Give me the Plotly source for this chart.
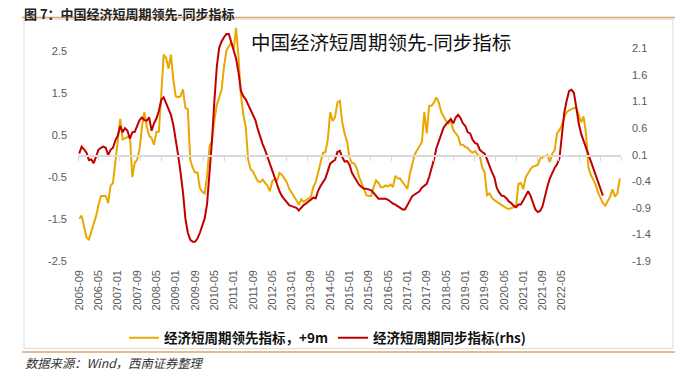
import pandas as pd
import plotly.graph_objects as go

# ---------------- data ----------------
months = pd.date_range("2005-09-01", periods=225, freq="MS").strftime("%Y-%m").tolist()

leading_9m = [
    -1.49, -1.42, -1.67, -1.94, -1.99, -1.80, -1.59, -1.43, -1.16, -0.95,
    -0.95, -0.95, -1.12, -0.71, -0.64, -0.08, 0.35, 0.89, 0.40, 0.43,
    0.45, 0.48, -0.50, -0.16, -0.09, 0.16, 0.70, 1.05, 0.70, 0.48,
    0.43, 0.27, 0.58, 0.58, 1.47, 2.42, 2.34, 2.09, 2.42, 1.82,
    1.43, 1.40, 1.43, 1.59, 1.15, 1.12, -0.08, -0.27, -0.39, -0.39,
    -0.76, -0.85, -0.89, -0.47, 0.23, 0.37, 0.85, 1.22, 1.40, 1.59,
    2.13, 2.52, 2.62, 2.71, 2.54, 3.06, 2.36, 1.47, 0.99, 0.70,
    -0.08, -0.31, -0.37, -0.47, -0.60, -0.62, -0.56, -0.64, -0.70, -0.84,
    -0.60, -0.54, -0.58, -0.40, -0.45, -0.53, -0.62, -0.78, -0.87, -0.93,
    -1.05, -1.16, -1.03, -1.09, -1.05, -1.00, -0.97, -0.74, -0.62, -0.39,
    -0.16, 0.08, 0.09, 0.39, 1.05, 0.84, 0.93, 1.28, 1.32, 0.81,
    0.53, 0.35, -0.04, -0.16, -0.18, -0.29, -0.50, -0.66, -0.78, -0.93,
    -0.95, -0.95, -0.74, -0.58, -0.64, -0.74, -0.74, -0.70, -0.72, -0.68,
    -0.74, -0.47, -0.53, -0.54, -0.62, -0.71, -0.78, -0.43, -0.16, 0.04,
    0.14, 0.23, 0.33, 1.05, 0.54, 1.20, 1.20, 1.28, 1.40, 1.28,
    1.05, 0.95, 0.84, 0.78, 0.84, 0.62, 0.54, 0.47, 0.27, 0.27,
    0.22, 0.19, 0.12, 0.08, 0.12, 0.04, 0.00, -0.27, -0.39, -0.93,
    -0.89, -0.99, -1.05, -1.09, -1.12, -1.16, -1.20, -1.24, -1.26, -1.24,
    -1.22, -1.20, -0.66, -0.64, -0.79, -0.50, -0.41, -0.31, -0.25, -0.23,
    -0.21, -0.06, -0.03, 0.00, 0.03, -0.14, 0.06, 0.14, 0.54, 0.62,
    0.74, 0.93, 1.05, 1.09, 1.12, 1.15, 1.15, 0.97, 0.81, 0.95,
    0.54, -0.27, -0.45, -0.56, -0.68, -0.87, -1.01, -1.12, -1.18, -1.09,
    -0.97, -0.79, -0.97, -0.89, -0.53,
]

coincident = [
    0.12, 0.25, 0.20, 0.14, 0.00, 0.01, -0.06, 0.05, 0.19, 0.23,
    0.25, 0.23, 0.09, 0.19, 0.23, 0.37, 0.46, 0.64, 0.52, 0.60,
    0.55, 0.40, 0.52, 0.53, 0.64, 0.75, 0.80, 0.75, 0.74, 0.80,
    0.55, 0.69, 0.78, 0.92, 1.13, 1.18, 1.07, 0.97, 0.85, 0.66,
    0.40, 0.09, -0.24, -0.61, -1.10, -1.37, -1.50, -1.54, -1.54, -1.48,
    -1.37, -1.25, -1.10, -0.82, -0.30, 0.35, 1.10, 1.75, 2.11, 2.23,
    2.31, 2.37, 2.37, 2.22, 2.07, 1.91, 1.65, 1.30, 1.20, 1.14,
    1.04, 0.94, 0.83, 0.75, 0.58, 0.43, 0.30, 0.19, 0.06, -0.07,
    -0.22, -0.37, -0.49, -0.59, -0.68, -0.74, -0.79, -0.85, -0.87, -0.88,
    -0.90, -0.95, -0.89, -0.85, -0.82, -0.78, -0.75, -0.71, -0.72, -0.58,
    -0.49, -0.41, -0.35, -0.21, -0.07, -0.03, 0.00, 0.15, 0.17, 0.05,
    -0.03, -0.02, -0.09, -0.24, -0.32, -0.40, -0.47, -0.51, -0.54, -0.54,
    -0.55, -0.57, -0.62, -0.67, -0.73, -0.73, -0.73, -0.73, -0.75, -0.79,
    -0.82, -0.84, -0.87, -0.89, -0.93, -0.93, -0.85, -0.76, -0.68, -0.65,
    -0.62, -0.59, -0.52, -0.49, -0.45, -0.32, -0.17, 0.01, 0.22, 0.35,
    0.46, 0.61, 0.67, 0.72, 0.77, 0.69, 0.80, 0.85, 0.79, 0.69,
    0.64, 0.52, 0.50, 0.38, 0.32, 0.30, 0.19, 0.15, 0.12, 0.01,
    -0.12, -0.23, -0.32, -0.52, -0.61, -0.67, -0.68, -0.72, -0.78, -0.81,
    -0.86, -0.89, -0.84, -0.84, -0.76, -0.68, -0.59, -0.67, -0.82, -0.93,
    -0.98, -0.96, -0.87, -0.67, -0.50, -0.35, -0.24, -0.15, -0.08, 0.03,
    0.46, 0.89, 1.12, 1.30, 1.32, 1.26, 0.98, 0.68, 0.49, 0.36,
    0.25, 0.11, -0.03, -0.15, -0.26, -0.40, -0.52, -0.67,
]

x_tick_labels = [
    "2005-09", "2006-05", "2007-01", "2007-09", "2008-05", "2009-01", "2009-09",
    "2010-05", "2011-01", "2011-09", "2012-05", "2013-01", "2013-09", "2014-05",
    "2015-01", "2015-09", "2016-05", "2017-01", "2017-09", "2018-05", "2019-01",
    "2019-09", "2020-05", "2021-01", "2021-09", "2022-05",
]
left_ticks = [-2.5, -1.5, -0.5, 0.5, 1.5, 2.5]
right_ticks = [-1.9, -1.4, -0.9, -0.4, 0.1, 0.6, 1.1, 1.6, 2.1]

name_leading = "经济短周期领先指标，+9m"
name_coincident = "经济短周期同步指标(rhs)"
fig_title = "图 7：中国经济短周期领先-同步指标"
chart_title = "中国经济短周期领先-同步指标"
source_text = "数据来源：Wind，西南证券整理"

# ---------------- layout geometry ----------------
W, H = 684, 381
ML, MR, MT, MB = 78, 63, 25, 114
PW, PH = W - ML - MR, H - MT - MB
Y_LEFT = [-2.5, 3.128]
Y_RIGHT = [-1.9, 2.54]
X_RANGE = [-0.5, len(months) - 0.5]


def px_x(px):
    return (px - ML) / PW


def px_y(py):
    return (H - MB - py) / PH


idx_lead = list(range(len(leading_9m)))
idx_coin = list(range(len(coincident)))
tick_idx = [months.index(t) for t in x_tick_labels]

CJK = "Noto Sans CJK SC"
YELLOW = "#E8A800"
RED = "#C00000"
GRAY_TXT = "#595959"
ORANGE = "#D9A66C"

fig = go.Figure()
fig.add_trace(go.Scatter(
    x=idx_lead, y=leading_9m, name=name_leading, mode="lines",
    line=dict(color=YELLOW, width=2), xaxis="x", yaxis="y",
))
fig.add_trace(go.Scatter(
    x=idx_coin, y=coincident, name=name_coincident, mode="lines",
    line=dict(color=RED, width=2), xaxis="x2", yaxis="y2",
))

zero_pos = (0 - Y_LEFT[0]) / (Y_LEFT[1] - Y_LEFT[0])

fig.update_layout(
    width=W, height=H,
    margin=dict(l=ML, r=MR, t=MT, b=MB, pad=0),
    paper_bgcolor="white", plot_bgcolor="white",
    showlegend=True,
    legend=dict(
        orientation="h", xref="container", yref="container",
        x=124 / W, xanchor="left", y=1 - 338 / H, yanchor="middle",
        font=dict(family=CJK, size=13.5, color="#111111", weight="bold"),
        itemwidth=30, tracegroupgap=0, bgcolor="rgba(0,0,0,0)",
    ),
    xaxis=dict(
        range=X_RANGE, tickmode="array", tickvals=tick_idx, ticktext=x_tick_labels,
        tickangle=-90, ticks="", showline=False, showgrid=False, zeroline=False,
        tickfont=dict(family="Liberation Sans", size=11, color=GRAY_TXT),
        ticklabelstandoff=6,
    ),
    xaxis2=dict(
        range=X_RANGE, overlaying="x", anchor="free", position=zero_pos,
        tickmode="linear", tick0=-0.5, dtick=len(months) / 26,
        ticks="outside", ticklen=4, tickcolor="#D9D9D9", tickwidth=1,
        showline=True, linecolor="#D9D9D9", linewidth=1.5,
        showticklabels=False, showgrid=False, zeroline=False,
    ),
    yaxis=dict(
        range=Y_LEFT, tickmode="array", tickvals=left_ticks,
        ticktext=[f"{v:.1f}" for v in left_ticks],
        showgrid=False, zeroline=False, showline=False, ticks="",
        tickfont=dict(family="Liberation Sans", size=11, color=GRAY_TXT),
        ticklabelstandoff=10,
    ),
    yaxis2=dict(
        range=Y_RIGHT, overlaying="y", side="right", anchor="x2",
        tickmode="array", tickvals=right_ticks,
        ticktext=[f"{v:.1f}" for v in right_ticks],
        showgrid=False, zeroline=False, showline=False, ticks="",
        tickfont=dict(family="Liberation Sans", size=11, color=GRAY_TXT),
        ticklabelstandoff=10,
    ),
)

# frame of the chart area and report rules
fig.add_shape(type="rect", xref="paper", yref="paper",
              x0=px_x(24), x1=px_x(673), y0=px_y(357), y1=px_y(19),
              line=dict(color="#D9D9D9", width=1), fillcolor="rgba(0,0,0,0)", layer="below")
fig.add_shape(type="line", xref="paper", yref="paper",
              x0=px_x(22), x1=px_x(675), y0=px_y(17.3), y1=px_y(17.3),
              line=dict(color=ORANGE, width=1.5))
fig.add_shape(type="line", xref="paper", yref="paper",
              x0=px_x(22), x1=px_x(675), y0=px_y(360.5), y1=px_y(360.5),
              line=dict(color=ORANGE, width=1.5))

fig.add_annotation(text=fig_title, xref="paper", yref="paper",
                   x=px_x(23), y=px_y(2), xanchor="left", yanchor="top",
                   showarrow=False, borderpad=0,
                   font=dict(family=CJK, size=13, color="#222222", weight="bold"))
fig.add_annotation(text=chart_title, xref="paper", yref="paper",
                   x=px_x(380.5), y=px_y(41.7), xanchor="center", yanchor="middle",
                   showarrow=False,
                   font=dict(family=CJK, size=19.5, color="#111111"))
fig.add_annotation(text=source_text, xref="paper", yref="paper",
                   x=px_x(23), y=px_y(372), xanchor="left", yanchor="middle",
                   showarrow=False,
                   font=dict(family=CJK, size=12.3, color="#333333", style="italic"))

fig.write_html("out.html", config={"displayModeBar": False},
               post_script="document.body.style.margin='0';")
